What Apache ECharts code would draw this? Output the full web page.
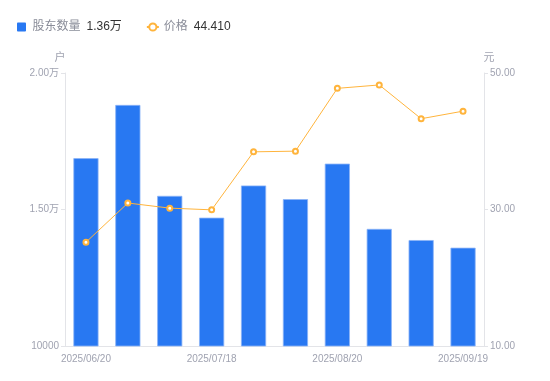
<!DOCTYPE html>
<html><head><meta charset="utf-8">
<script src="https://cdn.jsdelivr.net/npm/echarts@6/dist/echarts.min.js"></script>
<style>html,body{margin:0;padding:0;background:#fff}#c{width:550px;height:381px}</style>
</head><body><div id="c"></div>
<script>
var categories = ['2025/06/20','2025/06/30','2025/07/10','2025/07/18','2025/07/31','2025/08/10','2025/08/20','2025/08/31','2025/09/10','2025/09/19'];
var holders = [16880, 18830, 15500, 14700, 15880, 15380, 16680, 14290, 13880, 13600];
var prices = [25.2, 30.95, 30.2, 29.95, 38.45, 38.55, 47.75, 48.25, 43.3, 44.41];
var leftTicks = {min: 10000, max: 20000, interval: 5000};
var rightTicks = {min: 10, max: 50, interval: 20};
var legendValues = {'股东数量': '1.36万', '价格': '44.410'};

var chart = echarts.init(document.getElementById('c'));
var labelColor = '#a0a3b1';
chart.setOption({
  animation: false,
  textStyle: {fontFamily: '"Liberation Sans", "Noto Sans CJK SC", sans-serif'},
  legend: {
    left: 12, top: 16, itemGap: 24, itemWidth: 12, itemHeight: 9,
    data: [{name: '股东数量', icon: 'path://M1,0H9Q10,0 10,1V9Q10,10 9,10H1Q0,10 0,9V1Q0,0 1,0Z', itemStyle: {borderWidth: 0}}, {name: '价格'}],
    formatter: function (n) { return '{a|' + n + '}{b|' + legendValues[n] + '}'; },
    textStyle: {
      rich: {
        a: {color: '#8a8d99', fontSize: 12},
        b: {color: '#333', fontSize: 12, padding: [0, 0, 0, 6]}
      }
    }
  },
  grid: {left: 65, right: 66, top: 73, bottom: 35},
  xAxis: {
    type: 'category', data: categories,
    axisLine: {lineStyle: {color: '#e3e4e8'}},
    axisTick: {show: false},
    axisLabel: {color: labelColor, fontSize: 10, interval: 2, margin: 8}
  },
  yAxis: [{
    type: 'value', name: '户', min: leftTicks.min, max: leftTicks.max, interval: leftTicks.interval,
    nameTextStyle: {color: labelColor, fontSize: 11, padding: [0, 0, 0, -10]},
    nameGap: 10,
    axisLine: {show: true, lineStyle: {color: '#e3e4e8'}},
    axisTick: {show: true, length: 4, lineStyle: {color: '#e3e4e8'}},
    splitLine: {show: false},
    axisLabel: {color: labelColor, fontSize: 10, margin: 6,
      formatter: function (v) { return v > 10000 ? (v / 10000).toFixed(2) + '万' : String(v); }}
  }, {
    type: 'value', name: '元', min: rightTicks.min, max: rightTicks.max, interval: rightTicks.interval,
    nameTextStyle: {color: labelColor, fontSize: 11, padding: [0, 0, 0, 10]},
    nameGap: 10,
    axisLine: {show: true, lineStyle: {color: '#e3e4e8'}},
    axisTick: {show: true, length: 4, lineStyle: {color: '#e3e4e8'}},
    splitLine: {show: false},
    axisLabel: {color: labelColor, fontSize: 10, margin: 6,
      formatter: function (v) { return v.toFixed(2); }}
  }],
  series: [{
    name: '股东数量', type: 'bar', data: holders, barWidth: '60%',
    itemStyle: {color: '#2878f2', borderColor: '#8bb4f7', borderWidth: 0.8}
  }, {
    name: '价格', type: 'line', yAxisIndex: 1, data: prices,
    symbol: 'emptyCircle', symbolSize: 5,
    lineStyle: {color: '#ffb43c', width: 1},
    itemStyle: {color: '#ffb43c', borderWidth: 2}
  }]
});
</script></body></html>
